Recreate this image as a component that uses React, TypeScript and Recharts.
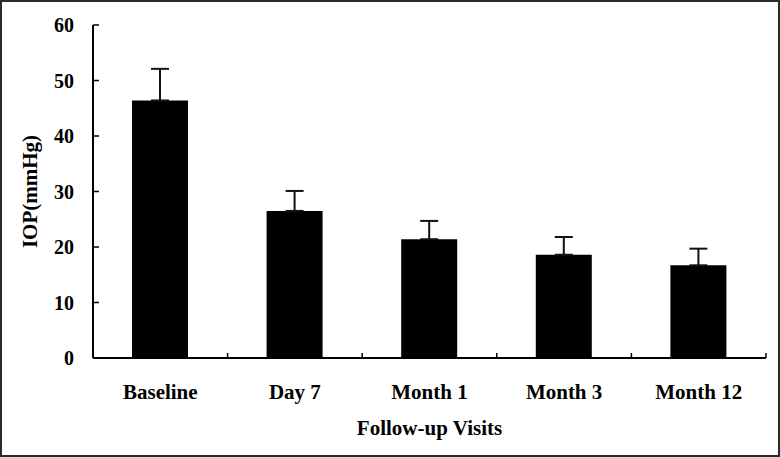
import React from 'react'
import { BarChart, Bar, XAxis, YAxis, ErrorBar, Label } from 'recharts'

// follow-up visits and mean IOP (mmHg) with SD
const visits = ['Baseline', 'Day 7', 'Month 1', 'Month 3', 'Month 12']
const iopMean = [46.4, 26.5, 21.4, 18.6, 16.7]
const iopSd = [5.7, 3.6, 3.3, 3.2, 3.0]
const yTicks = [0, 10, 20, 30, 40, 50, 60]

const data = visits.map((name, i) => ({
  name,
  iop: iopMean[i],
  sd: [0, iopSd[i]],
}))

const font = '"Liberation Serif", "Times New Roman", serif'
const yTickStyle = { fill: '#000', fontSize: 20, fontWeight: 700, fontFamily: font }
const labelStyle = { fill: '#000', fontSize: 21, fontWeight: 700, fontFamily: font }
const X_TICK_MARGIN = 26

// category label plus a small upward tick at the right edge of its band
const VisitTick = (props: any) => {
  const { x, y, payload, width, visibleTicksCount } = props
  const half = width / visibleTicksCount / 2
  const axisY = y - X_TICK_MARGIN
  return (
    <g>
      <line x1={x + half} x2={x + half} y1={axisY} y2={axisY - 5} stroke="#000" strokeWidth={1.5} />
      <text
        x={x}
        y={y}
        dy="0.71em"
        textAnchor="middle"
        fill="#000"
        fontSize={21}
        fontWeight={700}
        fontFamily={font}
      >
        {payload.value}
      </text>
    </g>
  )
}

const App = () => {
  return (
    <div style={{ position: 'absolute', left: 0, top: 0, width: 780, height: 457, background: '#fff' }}>
      <BarChart
        width={780}
        height={457}
        data={data}
        margin={{ top: 25, right: 14, bottom: 0, left: 0 }}
      >
        <XAxis
          dataKey="name"
          height={99}
          axisLine={{ stroke: '#000', strokeWidth: 2 }}
          tickLine={false}
          tickSize={0}
          tickMargin={X_TICK_MARGIN}
          tick={<VisitTick />}
          interval={0}
        >
          <Label value="Follow-up Visits" position="insideBottom" offset={22} style={labelStyle} />
        </XAxis>
        <YAxis
          width={93}
          domain={[0, 60]}
          ticks={yTicks}
          axisLine={{ stroke: '#000', strokeWidth: 2 }}
          tickLine={{ stroke: '#000', strokeWidth: 1.5 }}
          tickSize={-6}
          tickMargin={25}
          tick={yTickStyle}
        >
          <Label
            value="IOP(mmHg)"
            angle={-90}
            position="insideLeft"
            offset={30}
            style={{ ...labelStyle, textAnchor: 'middle' }}
          />
        </YAxis>
        <Bar dataKey="iop" fill="#000" barSize={56} isAnimationActive={false}>
          <ErrorBar dataKey="sd" width={9} stroke="#111" strokeWidth={2} direction="y" />
        </Bar>
      </BarChart>
      <div
        style={{
          position: 'absolute', left: 0, top: 0, width: 780, height: 457,
          boxSizing: 'border-box', border: '2px solid #2b2b2b', pointerEvents: 'none',
        }}
      />
    </div>
  )
}

export default App
